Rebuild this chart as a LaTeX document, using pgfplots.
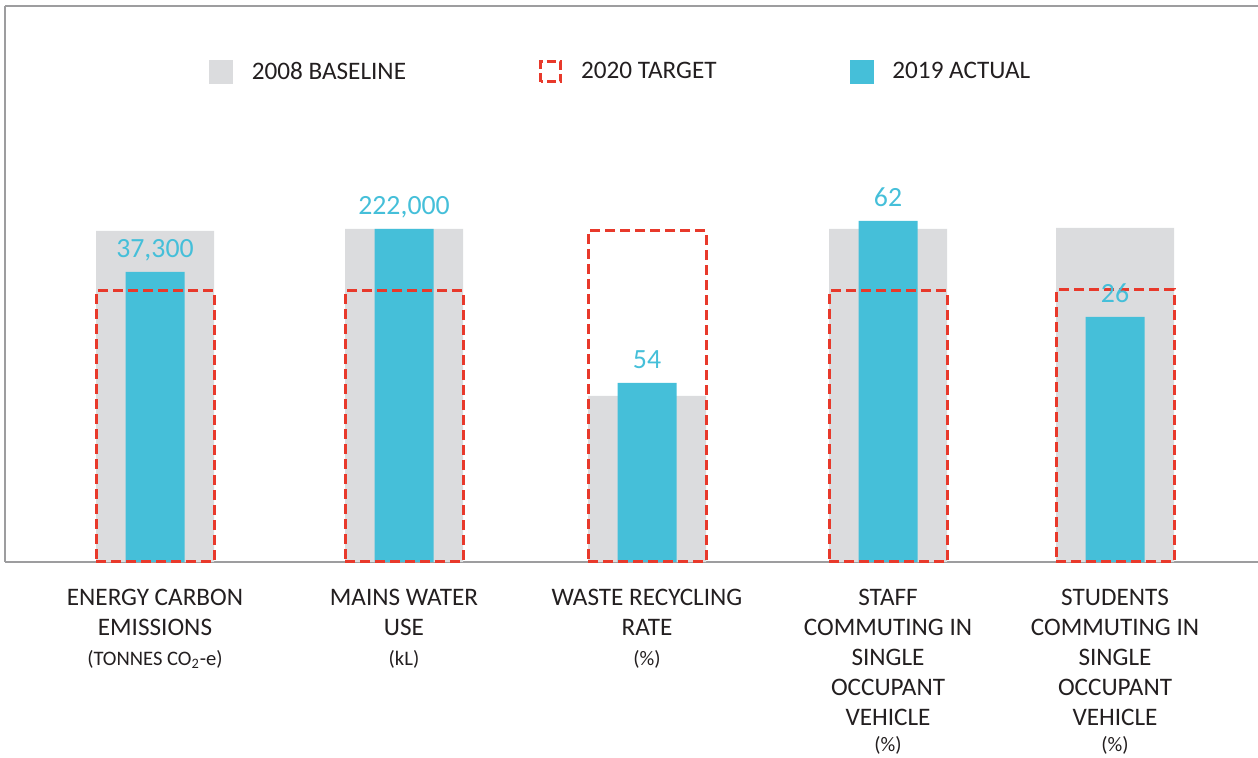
\documentclass[border=0pt]{standalone}
\usepackage{fontspec}
\setmainfont{Carlito}
\usepackage{pgfplots}
\usepackage{pgfplotstable}
\pgfplotsset{compat=1.18}
\definecolor{cgray}{HTML}{DBDCDE}
\definecolor{cblue}{HTML}{45BFD9}
\definecolor{cred}{HTML}{E8392B}
\definecolor{ctext}{HTML}{231F20}
\definecolor{cframe}{HTML}{9D9D9F}

\pgfplotstableread{
x base target
155 331 271
404 333 271
647 166 331
888 333 271
1115 334 272
}\basedata

\pgfplotstableread[col sep=semicolon]{
x;actual;label
155;290;37,300
404;333;222,000
647;179;54
888;341;62
1115;245;26
}\actualdata

\begin{document}
\begin{tikzpicture}
\begin{axis}[
  scale only axis, width=626.5pt, height=278pt,
  xmin=5, xmax=1258, ymin=0, ymax=556,
  axis x line*=bottom, axis y line*=left,
  axis line style={cframe, line width=1pt},
  ytick=\empty,
  xtick={155,404,647,888,1115},
  xticklabels={
    {ENERGY CARBON\\EMISSIONS\\{\fontsize{10.3}{12}\selectfont (TONNES CO\textsubscript{2}-e)}},
    {MAINS WATER\\USE\\{\fontsize{10.3}{12}\selectfont (kL)}},
    {WASTE RECYCLING\\RATE\\{\fontsize{10.3}{12}\selectfont (\%)}},
    {STAFF\\COMMUTING IN\\SINGLE\\OCCUPANT\\VEHICLE\\[-2pt]{\fontsize{10.3}{12}\selectfont (\%)}},
    {STUDENTS\\COMMUTING IN\\SINGLE\\OCCUPANT\\VEHICLE\\[-2pt]{\fontsize{10.3}{12}\selectfont (\%)}}
  },
  major tick length=0pt,
  xticklabel style={align=center, font=\fontsize{12.6}{15}\selectfont, text=ctext, yshift=-10pt},
  clip=false,
  legend columns=3,
  legend style={at={(axis cs:209,490)}, anchor=west, inner sep=0pt, outer sep=0pt,
    draw=none, fill=none,
    nodes={inner sep=0pt, text=ctext, font=\fontsize{12.6}{15}\selectfont},
    /tikz/every odd column/.append style={column sep=9.5pt},
    /tikz/every even column/.append style={column sep=66.5pt}},
  after end axis/.code={\draw[cframe, line width=1pt] (rel axis cs:0,1) -- (rel axis cs:1,1);},
]
\addlegendimage{legend image code/.code={\fill[cgray] (0pt,-5.75pt) rectangle (11.5pt,5.75pt);}}
\addlegendentry{2008 BASELINE}
\addlegendimage{legend image code/.code={\draw[cred, line width=1.5pt, dash pattern=on 4.5pt off 2pt] (0.75pt,-5pt) rectangle (10.75pt,5pt);}}
\addlegendentry{2020 TARGET}
\addlegendimage{legend image code/.code={\fill[cblue] (0pt,-5.75pt) rectangle (11.5pt,5.75pt);}}
\addlegendentry{2019 ACTUAL}

\addplot[ybar, bar shift=0pt, bar width=118, fill=cgray, draw=none, forget plot]
  table[x=x, y=base] {\basedata};
\addplot[ybar, bar shift=0pt, bar width=59, fill=cblue, draw=none, forget plot,
  nodes near coords, point meta=explicit symbolic,
  every node near coord/.append style={text=cblue, font=\fontsize{13.9}{15}\selectfont,
    anchor=base, inner sep=0pt, yshift=7pt}]
  table[x=x, y=actual, meta=label] {\actualdata};
\addplot[ybar, bar shift=0pt, bar width=118, fill=none, draw=cred, line width=1.5pt,
  dash pattern=on 5pt off 2.5pt, forget plot]
  table[x=x, y=target] {\basedata};
\end{axis}
\pgfresetboundingbox
\path ([xshift=-2.5pt,yshift=3pt]current axis.north west) rectangle ([yshift=-98pt]current axis.south east);
\end{tikzpicture}
\end{document}
